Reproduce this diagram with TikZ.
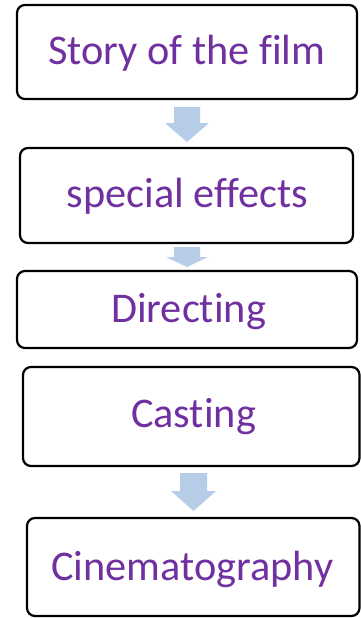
\documentclass[tikz,border=0pt]{standalone}
\usepackage{fontspec}
\setmainfont{Carlito}[Ligatures={NoCommon}]
\definecolor{txtpurple}{HTML}{7030A0}
\definecolor{arrowblue}{HTML}{B7CCE7}
\begin{document}
\begin{tikzpicture}[x=1pt,y=-1pt,
  box/.style={draw=black,line width=2.2pt,rounded corners=8pt,inner sep=0pt},
  lbl/.style={text=txtpurple,font=\fontsize{42.3}{50}\selectfont,anchor=base,inner sep=0pt},
  blockarrow/.style={fill=arrowblue,draw=none}]
\useasboundingbox (0,0) rectangle (361,618);
% boxes
\node[box,minimum width=340pt,minimum height=94pt] (b1) at (187,52) {};
\node[box,minimum width=333pt,minimum height=95pt] (b2) at (186.5,195.5) {};
\node[box,minimum width=340pt,minimum height=77pt] (b3) at (187,309.5) {};
\node[box,minimum width=336.5pt,minimum height=99pt] (b4) at (191.25,416.5) {};
\node[box,minimum width=332.5pt,minimum height=98pt] (b5) at (193.25,567) {};
% labels
\node[lbl] (t1) at (187,65) {Story of the film};
\node[lbl] (t2) at (187.5,207) {special effects};
\node[lbl] (t3) at (188.5,322) {Directing};
\node[lbl] (t4) at (193.5,427) {Casting};
\node[lbl] (t5) at (192.5,580) {Cinematography};
% block arrows
\fill[blockarrow] (174,107) -- (200,107) -- (200,123) -- (209,123) -- (187,142) -- (165,123) -- (174,123) -- cycle;
\fill[blockarrow] (174,247) -- (200,247) -- (200,257) -- (208,257) -- (187,267) -- (166,257) -- (174,257) -- cycle;
\fill[blockarrow] (180,473) -- (207,473) -- (207,491) -- (216,491) -- (193.5,511) -- (171,491) -- (180,491) -- cycle;
\end{tikzpicture}
\end{document}
